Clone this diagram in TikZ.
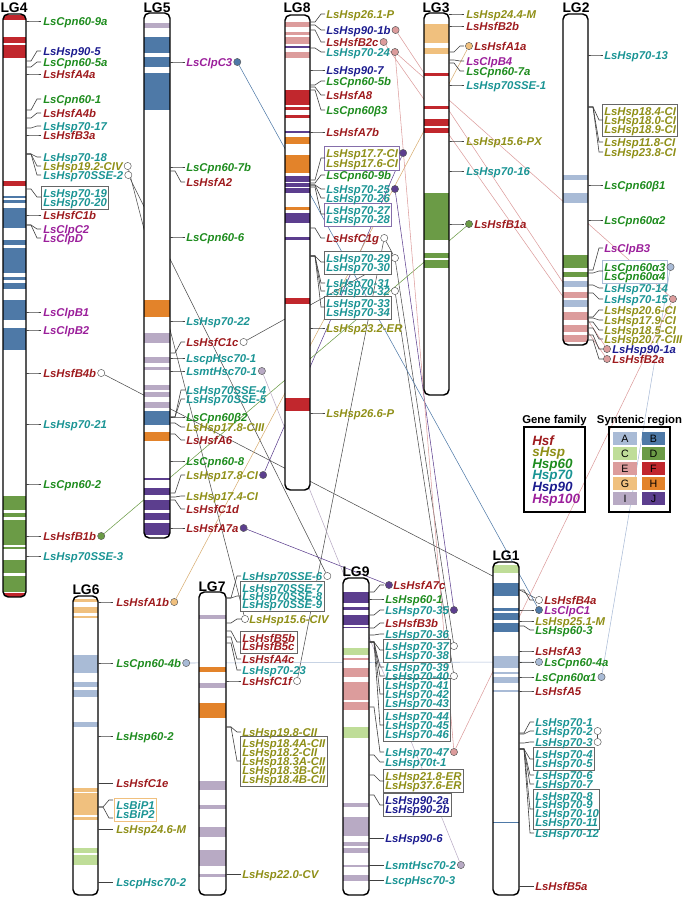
\documentclass[tikz,border=0pt]{standalone}
\usepackage{fontspec}
\setmainfont{Liberation Sans}
\usetikzlibrary{fit}
\pgfdeclarelayer{back}
\pgfdeclarelayer{boxes}
\pgfsetlayers{back,boxes,main}
\definecolor{cHsf}{HTML}{9E1B1E}
\definecolor{cS}{HTML}{8F8F17}
\definecolor{c60}{HTML}{1E8C1E}
\definecolor{c70}{HTML}{1A9494}
\definecolor{c90}{HTML}{1C1C8F}
\definecolor{c100}{HTML}{9B1F9B}
\definecolor{bA}{HTML}{A9BBD6}
\definecolor{bB}{HTML}{4E79A7}
\definecolor{bC}{HTML}{BFDD98}
\definecolor{bD}{HTML}{6B9B46}
\definecolor{bE}{HTML}{DC9C9C}
\definecolor{bF}{HTML}{C1272D}
\definecolor{bG}{HTML}{F0C07E}
\definecolor{bH}{HTML}{E3832A}
\definecolor{bI}{HTML}{B8AAC4}
\definecolor{bJ}{HTML}{5C3E8E}
\tikzset{
 lbl/.style={inner sep=0pt, anchor=base west, text height=6.1pt, text depth=0.4pt, font=\fontsize{8.5}{9}\selectfont\bfseries\itshape},
 ttl/.style={inner sep=0pt, anchor=base, font=\fontsize{10.4}{11}\selectfont\bfseries},
 lgd/.style={inner sep=0pt, anchor=base west, font=\fontsize{10.1}{11}\selectfont\bfseries\itshape},
 chr/.style={draw=black, line width=1.1pt, rounded corners=4pt},
 leader/.style={draw=black!75, line width=0.45pt},
 gbox/.style={draw=black!60, line width=0.7pt, fill=white, inner xsep=1.2pt, inner ysep=1.7pt},
 dot/.style={circle, draw=black!65, line width=0.35pt, minimum size=5.4pt, inner sep=0pt, fill=#1},
 link/.style={line width=0.4pt, draw=#1},
}
\newcommand\glab[5]{\node[lbl,text=#2] (#1) at (#3,#4+4) {#5};}
\newcommand\ldr[2]{\draw[leader] (\cxb,#1) -- (\cxb+5,#1) -- (\cxb+11,#2) -- (\cxb+15,#2);}
\newcommand\band[3]{\fill[#1] (\cxa,#2) rectangle (\cxb,#3);}
\newcommand\cafter[3]{\node[dot=#3] (#1) at ([xshift=3.6pt,yshift=3pt]#2.base east) {};}
\newcommand\chrbegin[4]{\def\cxa{#1}\def\cya{#2}\def\cxb{#3}\def\cyb{#4}\begin{scope}\clip[rounded corners=4pt] (#1,#2) rectangle (#3,#4);\fill[white] (#1,#2) rectangle (#3,#4);}
\newcommand\chrend{\end{scope}\draw[chr] (\cxa,\cya) rectangle (\cxb,\cyb);}
\begin{document}
\begin{tikzpicture}[x=0.75pt,y=-0.75pt]
\useasboundingbox (0,0) rectangle (685,897);

% ================= LG4
\node[ttl] (t4) at (14,12) {LG4};
\chrbegin{3}{14}{26}{597}
\band{bF}{15}{20}\band{bF}{37}{43}\band{bF}{45}{58}\band{bF}{181}{186}
\band{bB}{196}{198}\band{bB}{200}{203}\band{bB}{208}{228}\band{bB}{240}{245}
\band{bB}{248}{273}\band{bB}{277}{280}\band{bB}{283}{289}\band{bB}{300}{320}\band{bB}{328}{350}
\band{bD}{496}{510}\band{bD}{513}{517}\band{bD}{520}{545}\band{bD}{547}{549}\band{bD}{560}{573}\band{bD}{576}{592}
\band{bF}{593}{597}
\chrend
\def\tx{43}
\ldr{21}{21}\ldr{61}{51}\ldr{67}{62}\ldr{74}{74}\ldr{110}{99}\ldr{118}{113}\ldr{128}{126}\ldr{135}{135}
\ldr{154}{157}\ldr{154}{166}\ldr{154}{175}\ldr{189}{197}\ldr{215}{215}\ldr{225}{229}\ldr{225}{238}
\ldr{312}{312}\ldr{330}{330}\ldr{373}{373}\ldr{424}{424}\ldr{484}{484}\ldr{536}{536}\ldr{556}{556}
\glab{l4a}{c60}{\tx}{21}{LsCpn60-9a}
\glab{l4b}{c90}{\tx}{51}{LsHsp90-5}
\glab{l4c}{c60}{\tx}{62}{LsCpn60-5a}
\glab{l4d}{cHsf}{\tx}{74}{LsHsfA4a}
\glab{l4e}{c60}{\tx}{99}{LsCpn60-1}
\glab{l4f}{cHsf}{\tx}{113}{LsHsfA4b}
\glab{l4g}{c70}{\tx}{126}{LsHsp70-17}
\glab{l4h}{cHsf}{\tx}{135}{LsHsfB3a}
\glab{l4i}{c70}{\tx}{157}{LsHsp70-18}
\glab{l4j}{cS}{\tx}{166}{LsHsp19.2-CIV}
\glab{l4k}{c70}{\tx}{175}{LsHsp70SSE-2}
\glab{l4l}{c70}{\tx}{193}{LsHsp70-19}
\glab{l4m}{c70}{\tx}{202}{LsHsp70-20}
\glab{l4n}{cHsf}{\tx}{215}{LsHsfC1b}
\glab{l4o}{c100}{\tx}{229}{LsClpC2}
\glab{l4p}{c100}{\tx}{238}{LsClpD}
\glab{l4q}{c100}{\tx}{312}{LsClpB1}
\glab{l4r}{c100}{\tx}{330}{LsClpB2}
\glab{l4s}{cHsf}{\tx}{373}{LsHsfB4b}
\glab{l4t}{c70}{\tx}{424}{LsHsp70-21}
\glab{l4u}{c60}{\tx}{484}{LsCpn60-2}
\glab{l4v}{cHsf}{\tx}{536}{LsHsfB1b}
\glab{l4w}{c70}{\tx}{556}{LsHsp70SSE-3}
\cafter{c4j}{l4j}{white}\cafter{c4k}{l4k}{white}\cafter{c4s}{l4s}{white}\cafter{c4v}{l4v}{bD}
\begin{pgfonlayer}{boxes}\node[gbox,fit=(l4l)(l4m)] (b4a) {};\end{pgfonlayer}

% ================= LG5
\node[ttl] (t5) at (157,12) {LG5};
\chrbegin{144}{13}{170}{538}
\band{bI}{23}{28}\band{bB}{37}{53}\band{bB}{57}{67}\band{bB}{73}{110}
\band{bH}{300}{317}\band{bI}{333}{343}\band{bI}{357}{363}\band{bI}{367}{370}\band{bI}{385}{390}
\band{bI}{392}{397}\band{bI}{402}{408}\band{bB}{411}{425}\band{bH}{432}{441}
\band{bJ}{478}{480}\band{bJ}{488}{495}\band{bJ}{500}{510}\band{bJ}{513}{520}\band{bJ}{523}{535}
\chrend
\def\tx{186}
\ldr{62}{62}\ldr{167}{167}\ldr{171}{182}\ldr{237}{237}\ldr{321}{321}\ldr{353}{342}\ldr{358}{358}\ldr{371}{371}
\ldr{417}{390}\ldr{417}{399}\ldr{417}{417}\ldr{423}{427}\ldr{434}{440}\ldr{461}{461}\ldr{493}{475}\ldr{497}{496}\ldr{500}{509}\ldr{528}{528}
\glab{l5a}{c100}{\tx}{62}{LsClpC3}
\glab{l5b}{c60}{\tx}{167}{LsCpn60-7b}
\glab{l5c}{cHsf}{\tx}{182}{LsHsfA2}
\glab{l5d}{c60}{\tx}{237}{LsCpn60-6}
\glab{l5e}{c70}{\tx}{321}{LsHsp70-22}
\glab{l5f}{cHsf}{\tx}{342}{LsHsfC1c}
\glab{l5g}{c70}{\tx}{358}{LscpHsc70-1}
\glab{l5h}{c70}{\tx}{371}{LsmtHsc70-1}
\glab{l5i}{c70}{\tx}{390}{LsHsp70SSE-4}
\glab{l5j}{c70}{\tx}{399}{LsHsp70SSE-5}
\glab{l5k}{c60}{\tx}{417}{LsCpn60β2}
\glab{l5l}{cS}{\tx}{427}{LsHsp17.8-CIII}
\glab{l5m}{cHsf}{\tx}{440}{LsHsfA6}
\glab{l5n}{c60}{\tx}{461}{LsCpn60-8}
\glab{l5o}{cS}{\tx}{475}{LsHsp17.8-CI}
\glab{l5p}{cS}{\tx}{496}{LsHsp17.4-CI}
\glab{l5q}{cHsf}{\tx}{509}{LsHsfC1d}
\glab{l5r}{cHsf}{\tx}{528}{LsHsfA7a}
\cafter{c5a}{l5a}{bB}\cafter{c5f}{l5f}{white}\cafter{c5h}{l5h}{bI}\cafter{c5o}{l5o}{bJ}\cafter{c5r}{l5r}{bJ}

% ================= LG8
\node[ttl] (t8) at (297,12) {LG8};
\chrbegin{285}{15}{310}{490}
\band{bE}{22}{27}\band{bE}{32}{35}\band{bE}{37}{44}\band{bJ}{46}{48}\band{bE}{52}{58}
\band{bF}{90}{105}\band{bF}{107}{110}\band{bF}{115}{118}\band{bJ}{131}{133}\band{bH}{137}{144}
\band{bH}{155}{173}\band{bJ}{176}{182}\band{bJ}{183}{187}\band{bJ}{188}{193}\band{bH}{207}{210}
\band{bJ}{213}{223}\band{bJ}{237}{240}\band{bF}{298}{304}\band{bF}{398}{411}
\chrend
\def\tx{326}
\ldr{22}{14}\ldr{25}{30}\ldr{30}{42}\ldr{48}{52}\ldr{70}{70}\ldr{85}{81}\ldr{87}{95}\ldr{90}{110}\ldr{132}{132}
\ldr{180}{158}\ldr{183}{175}\ldr{185}{189}\ldr{185}{198}\ldr{187}{214}\ldr{228}{238}
\ldr{256}{262}\ldr{256}{283}\ldr{256}{291}\ldr{256}{307}\ldr{328}{328}\ldr{413}{413}
\glab{l8a}{cS}{\tx}{14}{LsHsp26.1-P}
\glab{l8b}{c90}{\tx}{30}{LsHsp90-1b}
\glab{l8c}{cHsf}{\tx}{42}{LsHsfB2c}
\glab{l8d}{c70}{\tx}{52}{LsHsp70-24}
\glab{l8e}{c90}{\tx}{70}{LsHsp90-7}
\glab{l8f}{c60}{\tx}{81}{LsCpn60-5b}
\glab{l8g}{cHsf}{\tx}{95}{LsHsfA8}
\glab{l8h}{c60}{\tx}{110}{LsCpn60β3}
\glab{l8i}{cHsf}{\tx}{132}{LsHsfA7b}
\glab{l8j}{cS}{\tx}{153}{LsHsp17.7-CI}
\glab{l8k}{cS}{\tx}{163}{LsHsp17.6-CI}
\glab{l8l}{c60}{\tx}{175}{LsCpn60-9b}
\glab{l8m}{c70}{\tx}{189}{LsHsp70-25}
\glab{l8n}{c70}{\tx}{198}{LsHsp70-26}
\glab{l8o}{c70}{\tx}{210}{LsHsp70-27}
\glab{l8p}{c70}{\tx}{219}{LsHsp70-28}
\glab{l8q}{cHsf}{\tx}{238}{LsHsfC1g}
\glab{l8r}{c70}{\tx}{258}{LsHsp70-29}
\glab{l8s}{c70}{\tx}{267}{LsHsp70-30}
\glab{l8t}{c70}{\tx}{283}{LsHsp70-31}
\glab{l8u}{c70}{\tx}{291}{LsHsp70-32}
\glab{l8v}{c70}{\tx}{303}{LsHsp70-33}
\glab{l8w}{c70}{\tx}{312}{LsHsp70-34}
\glab{l8x}{cS}{\tx}{328}{LsHsp23.2-ER}
\glab{l8y}{cS}{\tx}{413}{LsHsp26.6-P}
\begin{pgfonlayer}{boxes}
\node[gbox,draw=bJ!75,fit=(l8j)(l8k)] (b8a) {};
\node[gbox,draw=bJ!75,fit=(l8o)(l8p)] (b8b) {};
\node[gbox,fit=(l8r)(l8s)] (b8c) {};
\node[gbox,fit=(l8v)(l8w)] (b8d) {};
\end{pgfonlayer}
\cafter{c8b}{l8b}{bE}\cafter{c8c}{l8c}{bE}\cafter{c8d}{l8d}{bE}\cafter{c8j}{l8j}{bJ}\cafter{c8m}{l8m}{bJ}
\cafter{c8q}{l8q}{white}\cafter{c8r}{l8r}{white}\cafter{c8u}{l8u}{white}

% ================= LG3
\node[ttl] (t3) at (436,12) {LG3};
\chrbegin{424}{13}{449}{395}
\band{bG}{24}{43}\band{bG}{48}{54}\band{bF}{73}{76}\band{bF}{106}{109}\band{bF}{119}{126}\band{bF}{128}{133}
\band{bD}{193}{240}\band{bD}{253}{258}\band{bD}{260}{268}
\chrend
\def\tx{466}
\ldr{14}{14}\ldr{26}{26}\ldr{52}{46}\ldr{60}{61}\ldr{63}{71}\ldr{85}{85}\ldr{141}{141}\ldr{171}{171}\ldr{224}{224}
\glab{l3a}{cS}{\tx}{14}{LsHsp24.4-M}
\glab{l3b}{cHsf}{\tx}{26}{LsHsfB2b}
\node[dot=bG] (c3c) at (469,46) {};
\glab{l3c}{cHsf}{474}{46}{LsHsfA1a}
\glab{l3d}{c100}{\tx}{61}{LsClpB4}
\glab{l3e}{c60}{\tx}{71}{LsCpn60-7a}
\glab{l3f}{c70}{\tx}{85}{LsHsp70SSE-1}
\glab{l3g}{cS}{\tx}{141}{LsHsp15.6-PX}
\glab{l3h}{c70}{\tx}{171}{LsHsp70-16}
\node[dot=bD] (c3i) at (469,224) {};
\glab{l3i}{cHsf}{474}{224}{LsHsfB1a}

% ================= LG2
\node[ttl] (t2) at (576,12) {LG2};
\chrbegin{563}{14}{588}{345}
\band{bA}{175}{180}\band{bA}{193}{203}\band{bD}{255}{268}\band{bD}{272}{277}\band{bA}{281}{287}
\band{bE}{292}{298}\band{bA}{300}{307}\band{bE}{312}{320}\band{bE}{325}{332}\band{bE}{335}{342}
\chrend
\def\tx{604}
\ldr{55}{55}\ldr{107}{120}\ldr{107}{142}\ldr{107}{152}\ldr{185}{185}\ldr{220}{220}\ldr{270}{248}\ldr{273}{271}
\ldr{285}{288}\ldr{293}{299}\ldr{317}{310}\ldr{318}{320}\ldr{322}{330}\ldr{328}{339}\ldr{335}{349}\ldr{340}{359}
\glab{l2a}{c70}{\tx}{55}{LsHsp70-13}
\glab{l2b}{cS}{\tx}{111}{LsHsp18.4-CI}
\glab{l2c}{cS}{\tx}{120}{LsHsp18.0-CI}
\glab{l2d}{cS}{\tx}{129}{LsHsp18.9-CI}
\glab{l2e}{cS}{\tx}{142}{LsHsp11.8-CI}
\glab{l2f}{cS}{\tx}{152}{LsHsp23.8-CI}
\glab{l2g}{c60}{\tx}{185}{LsCpn60β1}
\glab{l2h}{c60}{\tx}{220}{LsCpn60α2}
\glab{l2i}{c100}{\tx}{248}{LsClpB3}
\glab{l2j}{c60}{\tx}{267}{LsCpn60α3}
\glab{l2k}{c60}{\tx}{276}{LsCpn60α4}
\glab{l2l}{c70}{\tx}{288}{LsHsp70-14}
\glab{l2m}{c70}{\tx}{299}{LsHsp70-15}
\glab{l2n}{cS}{\tx}{310}{LsHsp20.6-CI}
\glab{l2o}{cS}{\tx}{320}{LsHsp17.9-CI}
\glab{l2p}{cS}{\tx}{330}{LsHsp18.5-CI}
\glab{l2q}{cS}{\tx}{339}{LsHsp20.7-CIII}
\node[dot=bE] (c2r) at (607,349) {};
\glab{l2r}{c90}{612}{349}{LsHsp90-1a}
\node[dot=bE] (c2s) at (607,359) {};
\glab{l2s}{cHsf}{612}{359}{LsHsfB2a}
\begin{pgfonlayer}{boxes}
\node[gbox,fit=(l2b)(l2d)] (b2a) {};
\node[gbox,draw=bA,fit=(l2j)(l2k)] (b2b) {};
\end{pgfonlayer}
\cafter{c2j}{l2j}{bA}\cafter{c2m}{l2m}{bE}

% ================= LG6
\node[ttl] (t6) at (86,594) {LG6};
\chrbegin{73}{596}{98}{895}
\band{bG}{599}{602}\band{bG}{607}{613}\band{bG}{616}{618}\band{bA}{655}{673}\band{bA}{682}{687}\band{bA}{690}{697}
\band{bA}{722}{727}\band{bG}{788}{792}\band{bG}{793}{815}\band{bG}{817}{820}\band{bC}{848}{853}\band{bC}{855}{865}
\chrend
\def\tx{116}
\ldr{602}{602}\ldr{663}{663}\ldr{736}{736}\ldr{783}{783}\ldr{807}{800}\ldr{807}{818}\ldr{829}{829}\ldr{882}{882}
\glab{l6a}{cHsf}{\tx}{602}{LsHsfA1b}
\glab{l6b}{c60}{\tx}{663}{LsCpn60-4b}
\glab{l6c}{c60}{\tx}{736}{LsHsp60-2}
\glab{l6d}{cHsf}{\tx}{783}{LsHsfC1e}
\glab{l6e}{c70}{\tx}{805}{LsBiP1}
\glab{l6f}{c70}{\tx}{814}{LsBiP2}
\glab{l6g}{cS}{\tx}{829}{LsHsp24.6-M}
\glab{l6h}{c70}{\tx}{882}{LscpHsc70-2}
\begin{pgfonlayer}{boxes}\node[gbox,draw=bG,fit=(l6e)(l6f)] (b6a) {};\end{pgfonlayer}
\cafter{c6a}{l6a}{bG}\cafter{c6b}{l6b}{bA}

% ================= LG7
\node[ttl] (t7) at (212,591) {LG7};
\chrbegin{199}{592}{226}{895}
\band{bI}{615}{619}\band{bH}{667}{672}\band{bI}{683}{688}\band{bH}{703}{718}\band{bI}{781}{790}
\band{bI}{805}{809}\band{bI}{827}{837}\band{bI}{850}{866}\band{bI}{874}{877}
\chrend
\def\tx{242}
\ldr{598}{576}\ldr{598}{596}\ldr{623}{619}\ldr{631}{642}\ldr{637}{659}\ldr{643}{670}\ldr{681}{681}\ldr{727}{732}\ldr{727}{761}\ldr{874}{874}
\glab{l7a}{c70}{\tx}{576}{LsHsp70SSE-6}
\glab{l7b}{c70}{\tx}{588}{LsHsp70SSE-7}
\glab{l7c}{c70}{\tx}{596}{LsHsp70SSE-8}
\glab{l7d}{c70}{\tx}{604}{LsHsp70SSE-9}
\node[dot=white] (c7e) at (245,619) {};
\glab{l7e}{cS}{249}{619}{LsHsp15.6-CIV}
\glab{l7f}{cHsf}{\tx}{638}{LsHsfB5b}
\glab{l7g}{cHsf}{\tx}{646}{LsHsfB5c}
\glab{l7h}{cHsf}{\tx}{659}{LsHsfA4c}
\glab{l7i}{c70}{\tx}{670}{LsHsp70-23}
\glab{l7j}{cHsf}{\tx}{681}{LsHsfC1f}
\glab{l7k}{cS}{\tx}{732}{LsHsp19.8-CII}
\glab{l7l}{cS}{\tx}{743}{LsHsp18.4A-CII}
\glab{l7m}{cS}{\tx}{752}{LsHsp18.2-CII}
\glab{l7n}{cS}{\tx}{761}{LsHsp18.3A-CII}
\glab{l7o}{cS}{\tx}{770}{LsHsp18.3B-CII}
\glab{l7p}{cS}{\tx}{779}{LsHsp18.4B-CII}
\glab{l7q}{cS}{\tx}{874}{LsHsp22.0-CV}
\begin{pgfonlayer}{boxes}
\node[gbox,fit=(l7b)(l7d)] (b7a) {};
\node[gbox,fit=(l7f)(l7g)] (b7b) {};
\node[gbox,fit=(l7l)(l7p)] (b7c) {};
\end{pgfonlayer}
\cafter{c7a}{l7a}{white}\cafter{c7j}{l7j}{white}

% ================= LG9
\node[ttl] (t9) at (356,576) {LG9};
\chrbegin{343}{578}{369}{895}
\band{bJ}{592}{603}\band{bJ}{607}{610}\band{bJ}{615}{625}\band{bJ}{627}{628}\band{bC}{648}{655}
\band{bE}{658}{660}\band{bE}{668}{677}\band{bE}{682}{700}\band{bE}{702}{710}\band{bC}{727}{738}
\band{bI}{803}{807}\band{bI}{817}{836}\band{bI}{842}{846}\band{bI}{848}{853}\band{bI}{865}{867}\band{bI}{875}{881}
\chrend
\def\tx{385}
\ldr{592}{585}\ldr{599}{599}\ldr{615}{610}\ldr{628}{623}\ldr{635}{634}\ldr{642}{650}\ldr{642}{667}\ldr{642}{676}
\ldr{642}{694}\ldr{642}{725}\ldr{707}{752}\ldr{755}{762}\ldr{775}{781}\ldr{795}{805}\ldr{838}{838}\ldr{865}{865}\ldr{880}{880}
\node[dot=bJ] (c9a) at (389,585) {};
\glab{l9a}{cHsf}{393}{585}{LsHsfA7c}
\glab{l9b}{c60}{\tx}{599}{LsHsp60-1}
\glab{l9c}{c70}{\tx}{610}{LsHsp70-35}
\glab{l9d}{cHsf}{\tx}{623}{LsHsfB3b}
\glab{l9e}{c70}{\tx}{634}{LsHsp70-36}
\glab{l9f}{c70}{\tx}{646}{LsHsp70-37}
\glab{l9g}{c70}{\tx}{655}{LsHsp70-38}
\glab{l9h}{c70}{\tx}{667}{LsHsp70-39}
\glab{l9i}{c70}{\tx}{676}{LsHsp70-40}
\glab{l9j}{c70}{\tx}{685}{LsHsp70-41}
\glab{l9k}{c70}{\tx}{694}{LsHsp70-42}
\glab{l9l}{c70}{\tx}{703}{LsHsp70-43}
\glab{l9m}{c70}{\tx}{716}{LsHsp70-44}
\glab{l9n}{c70}{\tx}{725}{LsHsp70-45}
\glab{l9o}{c70}{\tx}{734}{LsHsp70-46}
\glab{l9p}{c70}{\tx}{752}{LsHsp70-47}
\glab{l9q}{c70}{\tx}{762}{LsHsp70t-1}
\glab{l9r}{cS}{\tx}{776}{LsHsp21.8-ER}
\glab{l9s}{cS}{\tx}{785}{LsHsp37.6-ER}
\glab{l9t}{c90}{\tx}{800}{LsHsp90-2a}
\glab{l9u}{c90}{\tx}{809}{LsHsp90-2b}
\glab{l9v}{c90}{\tx}{838}{LsHsp90-6}
\glab{l9w}{c70}{\tx}{865}{LsmtHsc70-2}
\glab{l9x}{c70}{\tx}{880}{LscpHsc70-3}
\begin{pgfonlayer}{boxes}
\node[gbox,fit=(l9f)(l9g)] (b9a) {};
\node[gbox,fit=(l9j)(l9l)] (b9b) {};
\node[gbox,fit=(l9m)(l9o)] (b9c) {};
\node[gbox,fit=(l9r)(l9s)] (b9d) {};
\node[gbox,fit=(l9t)(l9u)] (b9e) {};
\end{pgfonlayer}
\cafter{c9c}{l9c}{bJ}\cafter{c9f}{l9f}{white}\cafter{c9i}{l9i}{white}\cafter{c9p}{l9p}{bE}\cafter{c9w}{l9w}{bI}

% ================= LG1
\node[ttl] (t1) at (506,560) {LG1};
\chrbegin{493}{562}{519}{895}
\band{bC}{565}{573}\band{bB}{583}{596}\band{bB}{608}{611}\band{bB}{613}{620}\band{bB}{623}{632}
\band{bA}{656}{668}\band{bA}{672}{674}\band{bA}{677}{683}\band{bA}{690}{692}\band{bB}{821.5}{823}
\chrend
\def\tx{535}
\ldr{590}{600}\ldr{610}{610}\ldr{621}{621}\ldr{626}{630}\ldr{651}{651}\ldr{662}{662}\ldr{677}{677}\ldr{691}{691}
\ldr{733}{722}\ldr{734}{731}\ldr{743}{742}\ldr{749}{759}\ldr{749}{775}\ldr{749}{784}\ldr{749}{809}\ldr{749}{833}\ldr{886}{886}
\node[dot=white] (c1a) at (539,600) {};
\glab{l1a}{cHsf}{544}{600}{LsHsfB4a}
\node[dot=bB] (c1b) at (539,610) {};
\glab{l1b}{c100}{544}{610}{LsClpC1}
\glab{l1c}{cS}{\tx}{621}{LsHsp25.1-M}
\glab{l1d}{c60}{\tx}{630}{LsHsp60-3}
\glab{l1e}{cHsf}{\tx}{651}{LsHsfA3}
\node[dot=bA] (c1f) at (539,662) {};
\glab{l1f}{c60}{544}{662}{LsCpn60-4a}
\glab{l1g}{c60}{\tx}{677}{LsCpn60α1}
\glab{l1h}{cHsf}{\tx}{691}{LsHsfA5}
\glab{l1i}{c70}{\tx}{722}{LsHsp70-1}
\glab{l1j}{c70}{\tx}{731}{LsHsp70-2}
\glab{l1k}{c70}{\tx}{742}{LsHsp70-3}
\glab{l1l}{c70}{\tx}{754}{LsHsp70-4}
\glab{l1m}{c70}{\tx}{763}{LsHsp70-5}
\glab{l1n}{c70}{\tx}{775}{LsHsp70-6}
\glab{l1o}{c70}{\tx}{784}{LsHsp70-7}
\glab{l1p}{c70}{\tx}{796}{LsHsp70-8}
\glab{l1q}{c70}{\tx}{804}{LsHsp70-9}
\glab{l1r}{c70}{\tx}{813}{LsHsp70-10}
\glab{l1s}{c70}{\tx}{822}{LsHsp70-11}
\glab{l1t}{c70}{\tx}{833}{LsHsp70-12}
\glab{l1u}{cHsf}{\tx}{886}{LsHsfB5a}
\begin{pgfonlayer}{boxes}
\node[gbox,fit=(l1l)(l1m)] (b1a) {};
\node[gbox,fit=(l1p)(l1s)] (b1b) {};
\end{pgfonlayer}
\cafter{c1g}{l1g}{bA}\cafter{c1j}{l1j}{white}\cafter{c1k}{l1k}{white}

% ================= Legend
\node[inner sep=0pt,anchor=base,font=\fontsize{8.5}{9}\selectfont\bfseries] (lgf) at (554.5,423) {Gene family};
\node[inner sep=0pt,anchor=base,font=\fontsize{8.5}{9}\selectfont\bfseries] (lsr) at (639.5,423) {Syntenic region};
\draw[line width=1.1pt] (524,427) rectangle (585,512);
\draw[line width=1.1pt] (609,427) rectangle (670,512);
\node[lgd,text=cHsf] (g1) at (532,445) {Hsf};
\node[lgd,text=cS] (g2) at (532,456.6) {sHsp};
\node[lgd,text=c60] (g3) at (532,468.2) {Hsp60};
\node[lgd,text=c70] (g4) at (532,479.8) {Hsp70};
\node[lgd,text=c90] (g5) at (532,491.4) {Hsp90};
\node[lgd,text=c100] (g6) at (532,503) {Hsp100};
\foreach \L/\R/\la/\lb [count=\i from 0] in {bA/bB/A/B,bC/bD/C/D,bE/bF/E/F,bG/bH/G/H,bI/bJ/I/J}{
  \fill[\L] (613,432+15*\i) rectangle (637,445+15*\i);
  \fill[\R] (642,432+15*\i) rectangle (665,445+15*\i);
  \node[inner sep=0pt,font=\fontsize{8}{9}\selectfont] (sl\i) at (625,438.5+15*\i) {\la};
  \node[inner sep=0pt,font=\fontsize{8}{9}\selectfont] (sr\i) at (653.5,438.5+15*\i) {\lb};
}

% ================= Links
\begin{pgfonlayer}{back}
\draw[link=black!70] (c4j) -- (c7e);
\draw[link=black!70] (c4k) -- (c7a);
\draw[link=black!70] (c4s) -- (c1a);
\draw[link=black!70] (c5f) -- (c8r);
\draw[link=black!70] (c8q) -- (c7j);
\draw[link=black!70] (c8q) -- (c8r);
\draw[link=black!70] (c8r) -- (c9f);
\draw[link=black!70] (c8u) -- (c9i);
\draw[link=black!70] (c1j) -- (c1k);
\draw[link=bB] (c5a) -- (c1b);
\draw[link=bJ] (c8j) -- (c5o);
\draw[link=bJ] (c8m) -- (c9c);
\draw[link=bJ] (c5r) -- (c9a);
\draw[link=bG!90!black] (c3c) -- (c6a);
\draw[link=bD] (c3i) -- (c4v);
\draw[link=bA] (c2j) -- (c1g);
\draw[link=bA] (c6b) -- (c1f);
\draw[link=bE] (c8b) -- (c2r);
\draw[link=bE] (c8c) -- (c2s);
\draw[link=bE] (c8d) -- (c2m);
\draw[link=bE] (c8d) -- (c9p);
\draw[link=bE] (c2m) -- (c9p);
\draw[link=bI] (c5h) -- (c9w);
\end{pgfonlayer}
\end{tikzpicture}
\end{document}
